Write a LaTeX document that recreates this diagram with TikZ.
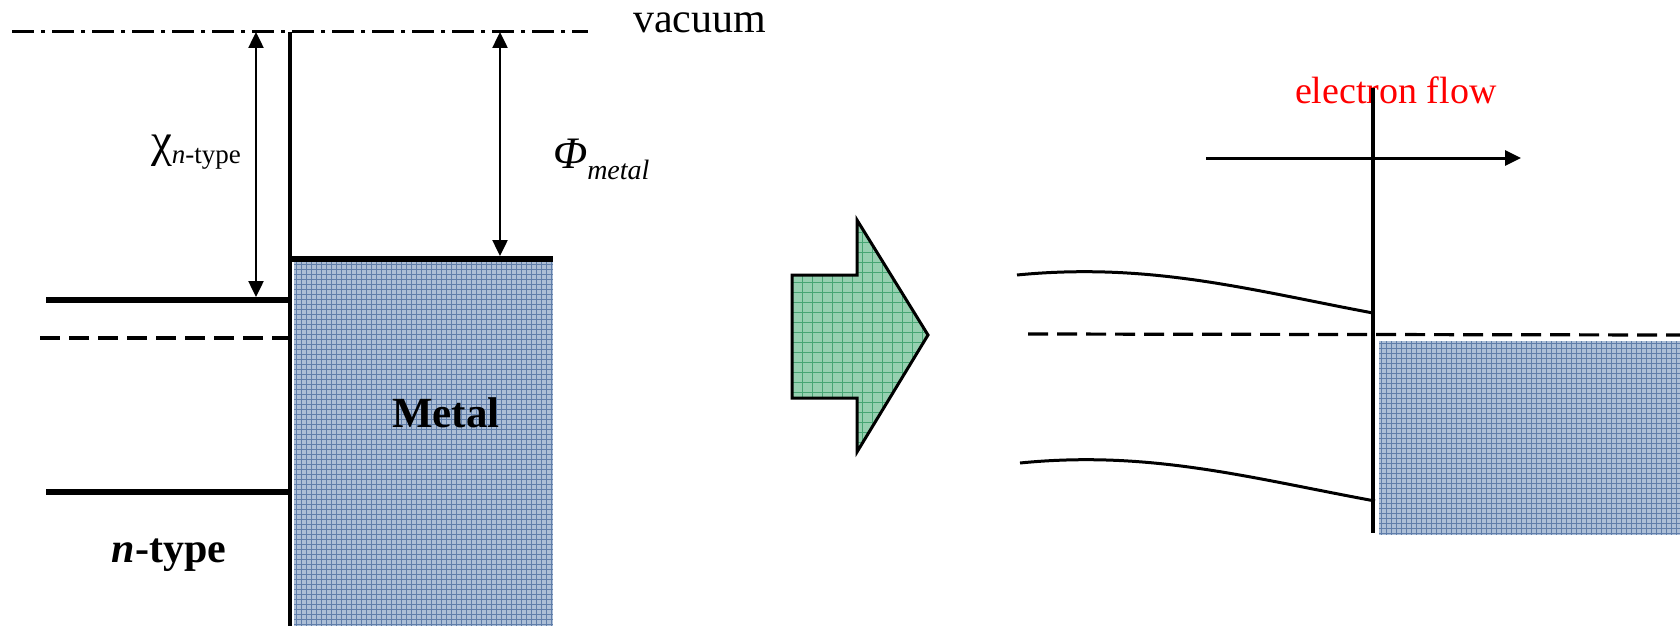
\documentclass[tikz,border=0pt]{standalone}
\usepackage{fontspec}
\setmainfont{Liberation Serif}
\usetikzlibrary{arrows.meta}
\definecolor{metalfill}{RGB}{172,190,214}
\definecolor{metalline}{RGB}{96,126,170}
\definecolor{arrowfill}{RGB}{150,208,176}
\definecolor{arrowline}{RGB}{70,165,115}
\tikzset{
  band/.style={line width=5.5pt},
  fermi/.style={line width=3.2pt, dash pattern=on 20pt off 9pt},
  vac/.style={line width=3pt, dash pattern=on 22pt off 7pt on 4pt off 7pt},
  iface/.style={line width=4pt},
  dimarrow/.style={line width=2.5pt, {Triangle[width=15pt,length=16pt]}-{Triangle[width=15pt,length=16pt]}},
  flowarrow/.style={line width=3pt, -{Triangle[width=15pt,length=16pt]}},
  bandcurve/.style={line width=3pt},
  lbl/.style={inner sep=0pt, outer sep=0pt},
  hatchline/.style={metalline, line width=0.9pt},
  greenline/.style={arrowline, line width=1pt},
}
\begin{document}
\begin{tikzpicture}[x=1pt,y=-1pt]
\useasboundingbox (0,0) rectangle (1680,626);

% ---------- left panel coordinates ----------
\coordinate (vacL) at (12,32);
\coordinate (vacR) at (588,32);
\coordinate (ifTop) at (290,32);
\coordinate (ifBot) at (290,626);
\coordinate (chiTop) at (256,32);
\coordinate (chiBot) at (256,297);
\coordinate (phiTop) at (500,32);
\coordinate (phiBot) at (500,256);
\coordinate (mtL) at (290,259);
\coordinate (mtR) at (553,259);
\coordinate (cbL) at (46,300);
\coordinate (cbR) at (290,300);
\coordinate (efL) at (40,338);
\coordinate (efR) at (290,338);
\coordinate (vbL) at (46,492);
\coordinate (vbR) at (290,492);

% metal block (left)
\fill[metalfill] (294,262) rectangle (553,626);
\begin{scope}
  \clip (294,262) rectangle (553,626);
  \foreach \x in {296,301,...,553} \draw[hatchline] (\x,262) -- (\x,626);
  \foreach \y in {264,269,...,626} \draw[hatchline] (294,\y) -- (553,\y);
\end{scope}

\draw[vac] (vacL) -- (vacR);
\draw[iface] (ifTop) -- (ifBot);
\draw[band] (mtL) -- (mtR);
\draw[band] (cbL) -- (cbR);
\draw[fermi] (efL) -- (efR);
\draw[band] (vbL) -- (vbR);
\draw[dimarrow] (chiTop) -- (chiBot);
\draw[dimarrow] (phiTop) -- (phiBot);

\node[lbl, anchor=base west] (vac) at (633,33) {\fontsize{42}{42}\selectfont vacuum};
\node[lbl, anchor=base west] (chi) at (151,156) {\fontsize{47}{47}\selectfont χ\raisebox{-7pt}{\fontsize{27}{27}\selectfont\textit{n}-type}};
\node[lbl, anchor=base west] (phi) at (553,168) {\fontsize{45}{45}\selectfont\textit{Φ}\raisebox{-11pt}{\fontsize{28}{28}\selectfont\textit{metal}}};
\node[lbl, anchor=base] (metal) at (446,427) {\fontsize{43}{43}\selectfont\bfseries Metal};
\node[lbl, anchor=base] (ntype) at (169,562) {\fontsize{42}{42}\selectfont\bfseries\textit{n}-type};

% ---------- block arrow ----------
\path[fill=arrowfill] (792,275) -- (857,275) -- (857,220) -- (928,335) -- (857,452) -- (857,398) -- (792,398) -- cycle;
\begin{scope}
  \clip (792,275) -- (857,275) -- (857,220) -- (928,335) -- (857,452) -- (857,398) -- (792,398) -- cycle;
  \foreach \x in {802,812,...,930} \draw[greenline] (\x,215) -- (\x,455);
  \foreach \y in {222,232,...,455} \draw[greenline] (790,\y) -- (930,\y);
\end{scope}
\draw[line width=3pt, line join=miter] (792,275) -- (857,275) -- (857,220) -- (928,335) -- (857,452) -- (857,398) -- (792,398) -- cycle;

% ---------- right panel ----------
\coordinate (rifTop) at (1373,88);
\coordinate (rifBot) at (1373,533);
\coordinate (flowL) at (1206,158);
\coordinate (flowR) at (1521,158);
\coordinate (ef2L) at (1028,334);
\coordinate (ef2R) at (1680,335);
\coordinate (cb2S) at (1017,275);
\coordinate (cb2E) at (1373,313);
\coordinate (vb2S) at (1020,463);
\coordinate (vb2E) at (1375,501);

\fill[metalfill] (1379,341) rectangle (1680,535);
\begin{scope}
  \clip (1379,341) rectangle (1680,535);
  \foreach \x in {1381,1386,...,1680} \draw[hatchline] (\x,341) -- (\x,535);
  \foreach \y in {343,348,...,535} \draw[hatchline] (1379,\y) -- (1680,\y);
\end{scope}

\node[lbl, anchor=base west, text=red] (flowlbl) at (1295,103) {\fontsize{38}{38}\selectfont electron flow};

\draw[fermi] (ef2L) -- (ef2R);
\draw[bandcurve] (cb2S) .. controls (1150,262) and (1250,290) .. (cb2E);
\draw[bandcurve] (vb2S) .. controls (1150,450) and (1250,478) .. (vb2E);
\draw[iface] (rifTop) -- (rifBot);
\draw[flowarrow] (flowL) -- (flowR);

\end{tikzpicture}
\end{document}
